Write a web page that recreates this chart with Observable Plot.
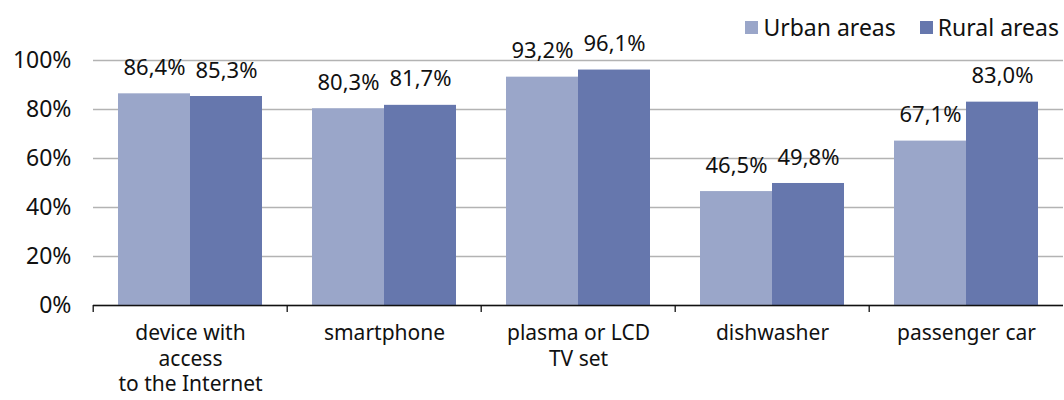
<!DOCTYPE html>
<html>
<head>
<meta charset="utf-8">
<script src="https://cdn.jsdelivr.net/npm/d3@7"></script>
<script src="https://cdn.jsdelivr.net/npm/@observablehq/plot@0.6"></script>
<style>
  body { margin: 0; background: #fff; }
  #wrap { position: relative; width: 1064px; height: 400px; font-family: "Noto Sans", sans-serif; color: #111; }
  #legend { position: absolute; top: 12px; right: 5px; display: flex; gap: 24px; font-size: 23px; line-height: 30px; align-items: center; }
  #legend span.item { display: flex; align-items: center; gap: 5px; }
  #legend i { display: inline-block; width: 13px; height: 13px; }
</style>
</head>
<body>
<div id="wrap"><div id="legend"></div></div>
<script>
const categories = ["device with\naccess\nto the Internet", "smartphone", "plasma or LCD\nTV set", "dishwasher", "passenger car"];
const series = ["Urban areas", "Rural areas"];
const urban = [86.4, 80.3, 93.2, 46.5, 67.1];
const rural = [85.3, 81.7, 96.1, 49.8, 83.0];
const yTicks = [0, 20, 40, 60, 80, 100];
const colors = ["#9aa6c9", "#6677ad"];

const rows = [];
categories.forEach((c, i) => {
  rows.push({category: c, series: series[0], value: urban[i]});
  rows.push({category: c, series: series[1], value: rural[i]});
});

const W = 1064, ML = 91, MR = 0;
const facetStep = (W - ML - MR) / categories.length;

const chart = Plot.plot({
  width: W, height: 400,
  marginLeft: ML, marginRight: MR, marginTop: 60, marginBottom: 95,
  style: {fontFamily: '"Noto Sans", sans-serif', fontSize: "22px", color: "#111", background: "transparent", overflow: "visible"},
  fx: {domain: categories, padding: 0, label: null},
  x: {domain: series, paddingInner: 0, paddingOuter: 0.333, axis: null},
  y: {domain: [0, 100], axis: null},
  color: {domain: series, range: colors},
  marks: [
    Plot.gridY(yTicks, {stroke: "#b3b3b3", strokeOpacity: 1, strokeWidth: 1.3}),
    Plot.axisY(yTicks, {tickSize: 0, tickPadding: 22, tickFormat: d => d + "%", label: null, fontSize: 23}),
    Plot.barY(rows, {fx: "category", x: "series", y: "value", fill: "series"}),
    Plot.text(rows, {fx: "category", x: "series", y: "value", text: d => d.value.toFixed(1).replace(".", ",") + "%", dy: -26, lineAnchor: "middle", fontSize: 22, fill: "#111"}),
    Plot.ruleY([0], {stroke: "#111", strokeWidth: 1.5}),
    Plot.axisFx({anchor: "bottom", tickSize: 0, tickPadding: 16, lineHeight: 1.23, label: null, fontSize: 21}),
    Plot.axisFx({anchor: "bottom", tickSize: 7, fill: "none", label: null, dx: -facetStep / 2, stroke: "#111", strokeWidth: 1.3})
  ]
});
document.getElementById("wrap").appendChild(chart);

const legend = document.getElementById("legend");
series.forEach((s, i) => {
  const item = document.createElement("span");
  item.className = "item";
  item.innerHTML = `<i style="background:${colors[i]}"></i>${s}`;
  legend.appendChild(item);
});
</script>
</body>
</html>
